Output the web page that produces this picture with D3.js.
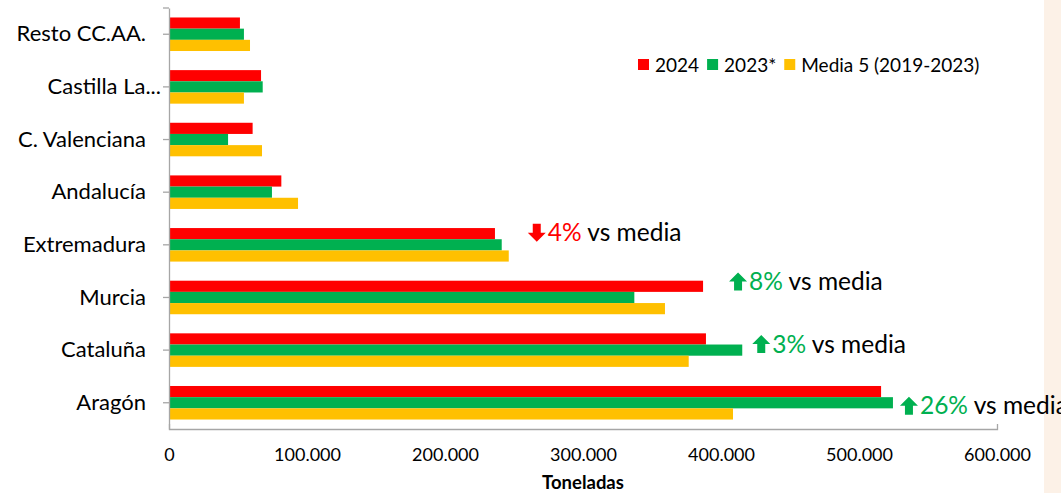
<!DOCTYPE html>
<html>
<head>
<meta charset="utf-8">
<script src="https://cdn.jsdelivr.net/npm/d3@7"></script>
<style>
  body { margin: 0; background: #fff; }
  svg { display: block; }
  svg text { font-family: Lato, "Open Sans", sans-serif; }
</style>
</head>
<body>
<svg id="chart"></svg>
<script>

const categories = ['Resto CC.AA.', 'Castilla La...', 'C. Valenciana', 'Andalucía', 'Extremadura', 'Murcia', 'Cataluña', 'Aragón'];
const v2024  = [51400, 66700, 60600, 81400, 236200, 387000, 389100, 516000];
const v2023  = [54300, 67900, 42800, 74600, 241100, 337200, 415400, 524600];
const vMedia = [58700, 54300, 67400, 93500, 246200, 359400, 376600, 408700];
const seriesNames = ['2024', '2023*', 'Media 5 (2019-2023)'];
const xTicks = [0, 100000, 200000, 300000, 400000, 500000, 600000];
const annotCats = ['Extremadura', 'Murcia', 'Cataluña', 'Aragón'];
const annotPct = [-4, 8, 3, 26];

const colors = ['#FF0000', '#00B050', '#FFC000'];
const W = 1061, H = 493;

const svg = d3.select('#chart').attr('width', W).attr('height', H);

// beige strip on the right edge
svg.append('rect').attr('x', 1044).attr('y', 0).attr('width', W - 1044).attr('height', H).attr('fill', '#FCF1E7');

const x_scale = d3.scaleLinear().domain([0, 600000]).range([169, 997]);
const y_scale = d3.scaleBand().domain(categories).range([8, 429]).paddingInner(0.363).paddingOuter(0.18);
const sub_scale = d3.scaleBand().domain(seriesNames).range([0, y_scale.bandwidth()]);

const loc = d3.formatLocale({decimal: ',', thousands: '.', grouping: [3], currency: ['', '€']});
const fmt = loc.format(',');

const rows = categories.map((c, i) => ({cat: c, vals: [v2024[i], v2023[i], vMedia[i]]}));

// bars
const grp = svg.append('g').selectAll('g').data(rows).join('g')
  .attr('transform', d => 'translate(0,' + y_scale(d.cat) + ')');
grp.selectAll('rect').data(d => d.vals.map((v, k) => ({v: v, k: k}))).join('rect')
  .attr('x', x_scale(0))
  .attr('y', d => sub_scale(seriesNames[d.k]))
  .attr('width', d => x_scale(d.v) - x_scale(0))
  .attr('height', sub_scale.bandwidth())
  .attr('fill', d => colors[d.k]);

// x axis
const xa = svg.append('g').attr('transform', 'translate(0,429)')
  .call(d3.axisBottom(x_scale).tickValues(xTicks).tickFormat(fmt).tickSize(0).tickSizeOuter(-5).tickPadding(19));
xa.select('.domain').attr('stroke', '#A6A6A6').attr('stroke-width', 1.3);
xa.selectAll('text').attr('font-size', 18).attr('fill', '#000');

// y axis
const ya = svg.append('g').attr('transform', 'translate(169,0)')
  .call(d3.axisLeft(y_scale).tickSize(6).tickSizeOuter(0).tickPadding(17));
ya.select('.domain').attr('stroke', '#A6A6A6').attr('stroke-width', 1.3);
ya.selectAll('line').attr('stroke', '#A6A6A6').attr('stroke-width', 1.3);
ya.selectAll('text').attr('font-size', 22).attr('fill', '#000')
  .attr('dx', d => d.endsWith('...') ? 15 : 0);
ya.append('line').attr('x1', -6).attr('x2', 0).attr('y1', 8).attr('y2', 8)
  .attr('stroke', '#A6A6A6').attr('stroke-width', 1.3);

svg.append('text').attr('x', (x_scale.range()[0] + x_scale.range()[1]) / 2).attr('y', 489)
  .attr('text-anchor', 'middle').attr('font-size', 18.5).attr('font-weight', 'bold').text('Toneladas');

// legend
const leg = svg.append('g').attr('transform', 'translate(638,65)');
let lx = 0;
seriesNames.forEach((n, k) => {
  leg.append('rect').attr('x', lx).attr('y', -6).attr('width', 11).attr('height', 11).attr('fill', colors[k]);
  const t = leg.append('text').attr('x', lx + 17).attr('y', 6.5).attr('font-size', 19).text(n);
  lx += 17 + t.node().getComputedTextLength() + 8;
});

// annotations (the last one runs off the right edge, as in the original)
const annotDx = [18, 25, 9, 6];
const annotDy = [-12, -16, -6, 3];
annotCats.forEach((c, i) => {
  const r = rows[categories.indexOf(c)];
  const ax = x_scale(d3.max(r.vals)) + annotDx[i];
  const cy = y_scale(c) + y_scale.bandwidth() / 2 + annotDy[i];
  const up = annotPct[i] > 0;
  const col = up ? colors[1] : colors[0];
  const g = svg.append('g').attr('transform', 'translate(' + ax + ',' + cy + ')');
  const arrow = up
    ? 'M10,-9 L19,0 L14,0 L14,9 L6,9 L6,0 L1,0 Z'
    : 'M10,9 L19,0 L14,0 L14,-9 L6,-9 L6,0 L1,0 Z';
  g.append('path').attr('d', arrow).attr('fill', col);
  const t = g.append('text').attr('x', 21).attr('y', 8.5).attr('font-size', 24.5);
  t.append('tspan').attr('fill', col).text(Math.abs(annotPct[i]) + '%');
  t.append('tspan').attr('fill', '#000').text(' vs media');
});

</script>
</body>
</html>
